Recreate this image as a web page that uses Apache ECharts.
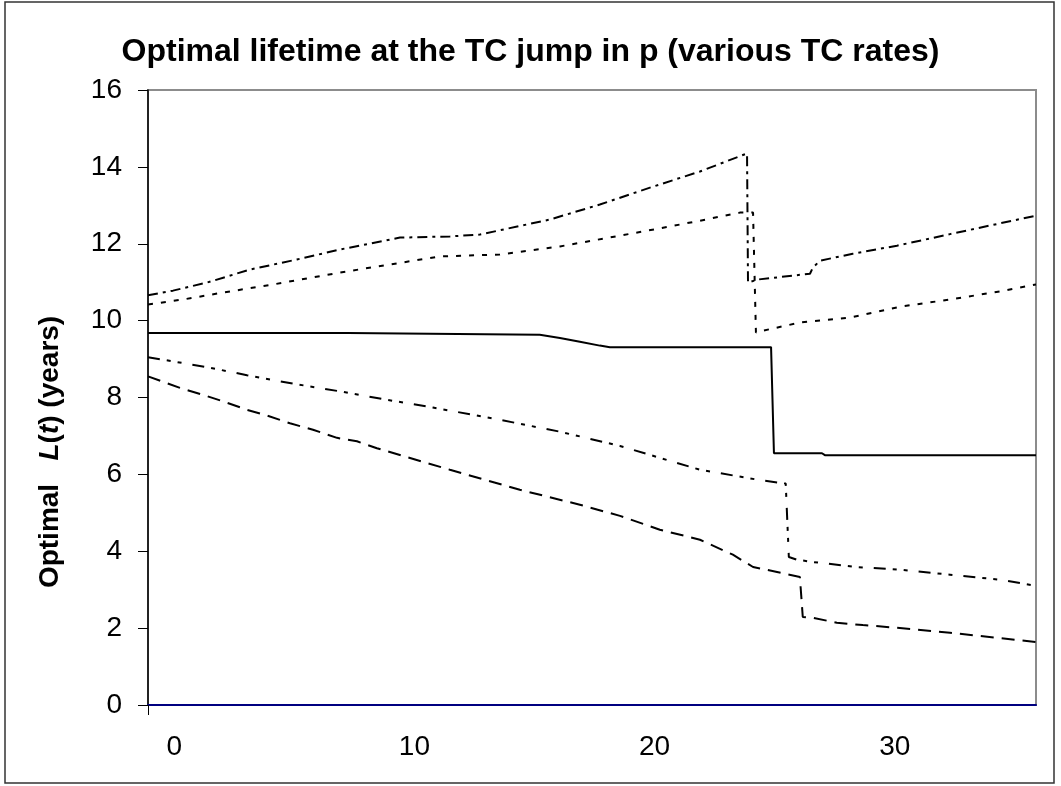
<!DOCTYPE html>
<html><head><meta charset="utf-8">
<script src="https://cdn.jsdelivr.net/npm/echarts@6/dist/echarts.min.js"></script>
<style>html,body{margin:0;padding:0;background:#fff}#c{width:1061px;height:786px}</style>
</head><body><div id="c"></div>
<script>
// Tick labels
const xTicks = [0, 10, 20, 30];
const xMin = -1.09, xMax = 35.88;
// Series: t values and L(t) values
const upperT = [-1.09,-0.05,1.37,3.16,5.11,6.90,9.40,11.48,12.73,15.64,17.72,19.81,21.89,23.85,23.89,24.31,26.47,26.59,26.89,28.25,30.09,32.30,34.38,35.88];
const upperV = [10.66,10.78,10.99,11.33,11.59,11.85,12.16,12.19,12.24,12.63,13.02,13.46,13.88,14.35,10.99,11.07,11.22,11.38,11.56,11.74,11.95,12.25,12.53,12.73];
const dottedT = [-1.09,0.37,2.03,4.11,6.90,8.98,11.07,13.56,16.06,18.56,20.22,21.89,23.55,24.10,24.22,24.31,26.05,28.13,30.21,32.30,34.38,35.88];
const dottedV = [10.42,10.55,10.73,10.94,11.25,11.46,11.67,11.72,11.93,12.21,12.40,12.60,12.81,12.81,9.69,9.71,9.95,10.08,10.36,10.55,10.76,10.94];
const solidT = [-1.09,7.24,7.30,15.22,16.06,16.89,17.72,18.14,24.85,24.97,26.97,27.09,35.88];
const solidV = [9.68,9.68,9.63,9.63,9.55,9.45,9.35,9.31,9.31,6.55,6.55,6.50,6.50];
const lowerT = [-1.09,1.37,3.03,4.95,6.90,8.86,10.77,13.56,16.06,18.56,20.22,21.89,24.31,25.46,25.59,25.93,26.59,28.42,30.21,32.30,34.38,35.88];
const lowerV = [9.05,8.79,8.58,8.36,8.16,7.94,7.74,7.42,7.11,6.74,6.43,6.12,5.86,5.76,3.85,3.78,3.72,3.59,3.52,3.39,3.26,3.10];
const dashedT = [-1.09,0.24,1.20,2.03,3.03,3.86,4.82,5.78,6.78,7.61,8.44,11.48,14.39,16.89,18.56,20.22,21.89,23.26,24.10,25.10,26.05,26.17,26.59,27.59,28.67,30.09,32.30,34.38,35.88];
const dashedV = [8.55,8.25,8.07,7.90,7.68,7.53,7.33,7.16,6.95,6.86,6.68,6.12,5.60,5.21,4.92,4.56,4.30,3.91,3.59,3.46,3.33,2.29,2.27,2.14,2.08,2.01,1.88,1.74,1.64];

const zip = (t, v) => t.map((x, i) => [x, v[i]]);
const FONT = '"Liberation Sans", Arial, sans-serif';
const mk = (name, t, v, type) => ({
  name, type: 'line', data: zip(t, v), showSymbol: false, symbol: 'none',
  lineStyle: { color: '#000', width: 2, type: type }, animation: false, z: 3
});

const chart = echarts.init(document.getElementById('c'), null, { renderer: 'canvas' });
chart.setOption({
  animation: false,
  backgroundColor: '#fff',
  title: {
    text: 'Optimal lifetime at the TC jump in p (various TC rates)',
    left: 'center', top: 31,
    textStyle: { fontFamily: FONT, fontSize: 32, fontWeight: 'bold', color: '#000' }
  },
  graphic: [{
    type: 'rect', shape: { x: 5, y: 2, width: 1049, height: 781 },
    style: { fill: 'none', stroke: '#333', lineWidth: 1.5 }, silent: true
  }],
  grid: { left: 148, right: 25, top: 90, bottom: 81, show: true, borderColor: '#8c8c8c', borderWidth: 2, backgroundColor: '#fff' },
  xAxis: {
    type: 'value', min: xMin, max: xMax,
    axisLine: { show: true, onZero: false, lineStyle: { color: '#000080', width: 2 } },
    axisTick: { show: true, customValues: [xMin], length: 10, lineStyle: { color: '#000', width: 1 } },
    axisLabel: { customValues: xTicks, margin: 28, fontFamily: FONT, fontSize: 28, color: '#000' },
    splitLine: { show: false }
  },
  yAxis: {
    type: 'value', min: 0, max: 16, interval: 2,
    name: '{a|Optimal   }{b|L}{a|(}{b|t}{a|) (years)}{a|              }',
    nameLocation: 'middle', nameGap: 84, nameRotate: 90,
    nameTextStyle: {
      rich: {
        a: { fontFamily: FONT, fontSize: 28, fontWeight: 'bold', color: '#000' },
        b: { fontFamily: FONT, fontSize: 28, fontWeight: 'bold', fontStyle: 'italic', color: '#000' }
      }
    },
    axisLine: { show: true, onZero: false, lineStyle: { color: '#000', width: 1.5 } },
    axisTick: { show: true, length: 10, lineStyle: { color: '#000', width: 1 } },
    axisLabel: { margin: 26, fontFamily: FONT, fontSize: 28, color: '#000' },
    splitLine: { show: false }
  },
  series: [
    mk('upper', upperT, upperV, [10, 5, 3, 5]),
    mk('dotted', dottedT, dottedV, [5, 8]),
    mk('solid', solidT, solidV, 'solid'),
    mk('lower', lowerT, lowerV, [12, 7, 4, 7, 4, 11]),
    mk('dashed', dashedT, dashedV, [13, 8])
  ]
});
</script></body></html>
